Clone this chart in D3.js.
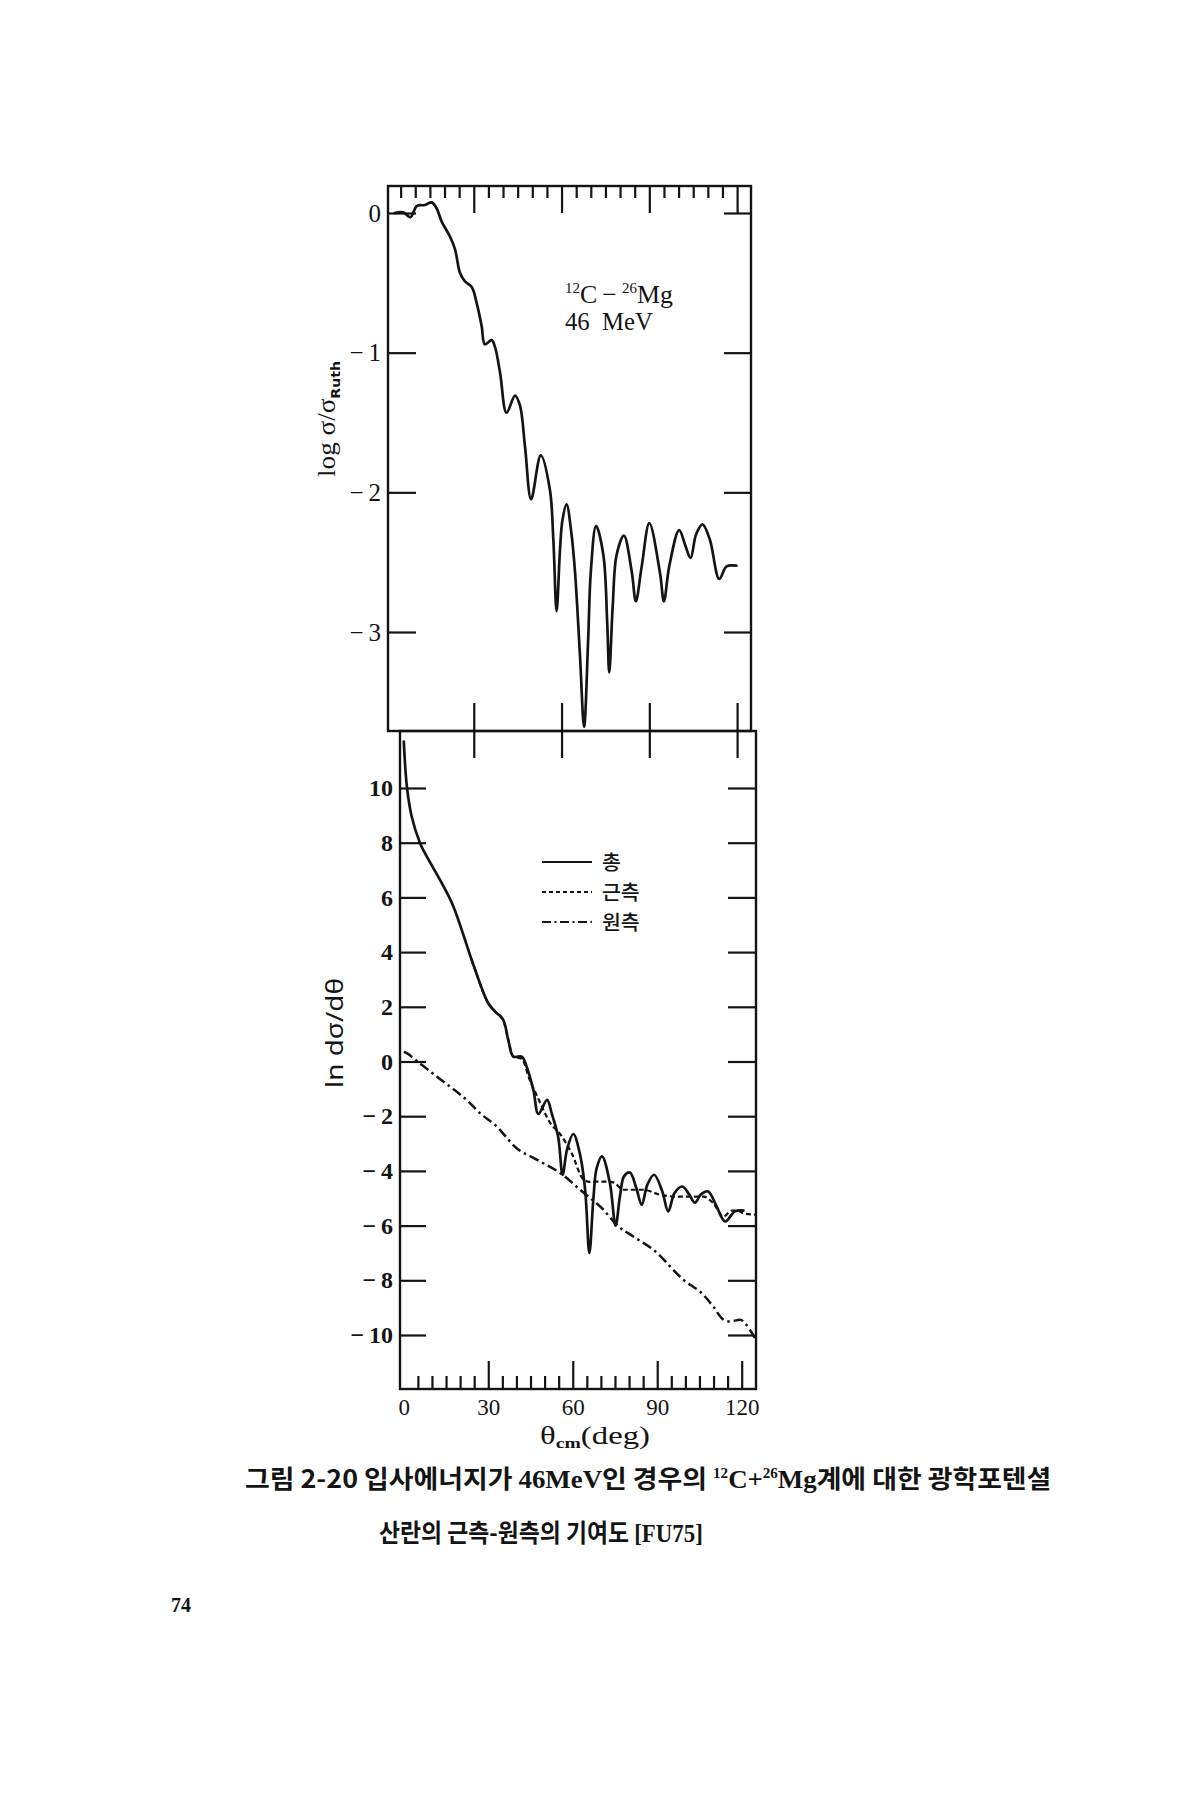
<!DOCTYPE html>
<html><head><meta charset="utf-8">
<script src="https://cdn.jsdelivr.net/npm/d3@7"></script>
<style>html,body{margin:0;padding:0;background:#fff}</style>
</head><body>
<svg id="c" width="1200" height="1800" xmlns="http://www.w3.org/2000/svg"></svg>
<script>
// ---------------- DATA ----------------
// Upper panel: log(sigma/sigma_Ruth) vs theta_cm (deg)
const ratioCurve = [[3.0,0.0],[5.9,0.005],[8.4,-0.03],[10.5,0.05],[13.3,0.057],[15.6,0.076],[17.3,0.034],[19.0,-0.06],[21.9,-0.17],[23.6,-0.26],[25.3,-0.43],[27.0,-0.49],[29.3,-0.53],[31.0,-0.645],[32.7,-0.81],[33.8,-0.94],[36.1,-0.91],[37.2,-0.955],[39.0,-1.145],[41.2,-1.43],[44.1,-1.307],[45.8,-1.38],[47.5,-1.67],[49.6,-2.05],[52.9,-1.736],[56.0,-1.98],[57.2,-2.34],[58.3,-2.85],[59.5,-2.4],[60.3,-2.2],[61.7,-2.086],[63.4,-2.3],[64.6,-2.57],[66.3,-3.17],[67.7,-3.68],[69.1,-3.05],[70.0,-2.57],[71.8,-2.24],[74.3,-2.45],[75.6,-2.93],[76.3,-3.29],[77.5,-2.81],[78.8,-2.45],[81.3,-2.31],[84.0,-2.57],[85.4,-2.78],[87.4,-2.53],[90.0,-2.22],[93.6,-2.57],[95.0,-2.78],[96.8,-2.53],[100.2,-2.27],[102.3,-2.38],[104.1,-2.47],[106.0,-2.3],[108.2,-2.23],[110.7,-2.34],[113.9,-2.62],[116.4,-2.53],[119.8,-2.525]];
// Lower panel: ln dsigma/dtheta vs theta_cm (deg)
const totalCurve = [[0.0,11.7],[1.1,10.05],[2.8,8.96],[5.75,7.99],[7.5,7.62],[13.5,6.52],[17.6,5.67],[24.7,3.54],[30.0,2.13],[32.4,1.83],[35.3,1.52],[37.1,0.79],[38.9,0.18],[41.9,0.18],[43.6,-0.18],[46.0,-1.03],[47.8,-1.92],[50.9,-1.40],[52.5,-1.89],[54.8,-2.74],[56.4,-4.14],[58.0,-3.2],[60.2,-2.65],[62.6,-3.41],[64.4,-4.69],[65.9,-7.0],[67.3,-5.06],[68.5,-3.9],[70.4,-3.47],[73.2,-4.45],[75.2,-6.0],[76.8,-4.9],[78.2,-4.2],[80.3,-4.06],[82.5,-4.6],[84.5,-5.24],[86.5,-4.5],[88.9,-4.14],[91.8,-4.75],[93.9,-5.48],[96.2,-4.8],[98.9,-4.57],[101.3,-4.85],[103.4,-5.16],[105.6,-4.85],[108.1,-4.75],[111.1,-5.30],[114.1,-5.85],[117.6,-5.48],[120.6,-5.45]];
const nearCurve = [[24.0,3.75],[24.7,3.54],[30.0,2.13],[32.4,1.83],[35.3,1.52],[37.1,0.79],[38.9,0.18],[41.9,0.1],[44.8,-0.7],[47.5,-1.3],[52.0,-2.25],[55.5,-2.65],[59.6,-3.35],[63.7,-4.3],[66.0,-4.4],[70.8,-4.39],[74.4,-4.42],[77.9,-4.69],[85.0,-4.69],[91.0,-4.87],[96.9,-4.94],[106.4,-4.94],[109.9,-5.18],[113.5,-5.67],[116.5,-5.45],[118.5,-5.45],[120.5,-5.55],[124.7,-5.6]];
const farCurve = [[0,0.35],[1.5,0.28],[3.4,0.12],[11.7,-0.55],[23.5,-1.52],[27.1,-1.89],[33.0,-2.38],[40.1,-3.17],[47.2,-3.59],[56.4,-4.14],[62.6,-4.69],[70.9,-5.42],[75.6,-5.97],[81.5,-6.4],[88.6,-6.88],[99.3,-7.98],[106.4,-8.53],[109.9,-8.96],[113.5,-9.44],[115.8,-9.51],[119.4,-9.44],[122.9,-9.81],[125.3,-10.24]];

const xMajorTicks = [30, 60, 90, 120];
const xMinorTicks = [5,10,15,20,25,35,40,45,50,55,65,70,75,80,85,95,100,105,110,115];
const xTickLabels = [0, 30, 60, 90, 120];
const upperYTicks = [0, -1, -2, -3];
const lowerYTicks = [10, 8, 6, 4, 2, 0, -2, -4, -6, -8, -10];
const legendLabels = ["총", "근측", "원측"];

// ---------------- SETUP ----------------
const svg = d3.select("#c");
svg.append("rect").attr("width",1200).attr("height",1800).attr("fill","#fff");
const ink = "#141414";
const serif = "'Liberation Serif','Times New Roman',serif";
const kr = "'Noto Sans CJK KR','Noto Sans',sans-serif";

const xTop = d3.scaleLinear().domain([0,120]).range([386,737.1]);
const yTop = d3.scaleLinear().domain([0,-3]).range([213,632]);
const xBot = d3.scaleLinear().domain([0,120]).range([403.8,741.7]);
const yBot = d3.scaleLinear().domain([10,-10]).range([788,1335]);

const topBox = {x0:388, x1:751, y0:186, y1:731};
const botBox = {x0:400, x1:756, y0:731, y1:1389};

function clean(g){
  g.select(".domain").remove();
  g.selectAll(".tick line").attr("stroke",ink).attr("stroke-width",2.2);
  g.selectAll(".tick text").attr("fill",ink);
}
const minus = d => d < 0 ? "\u2212\u2009" + (-d) : "" + d;

// frames
[topBox, botBox].forEach(b => {
  svg.append("rect").attr("x",b.x0).attr("y",b.y0).attr("width",b.x1-b.x0).attr("height",b.y1-b.y0)
    .attr("fill","none").attr("stroke",ink).attr("stroke-width",2.4);
});

// ---- upper panel axes ----
svg.append("g").attr("transform",`translate(0,${topBox.y0})`)
  .call(d3.axisBottom(xTop).tickValues(xMinorTicks).tickSize(12).tickFormat("")).call(clean);
svg.append("g").attr("transform",`translate(0,${topBox.y0})`)
  .call(d3.axisBottom(xTop).tickValues(xMajorTicks).tickSize(27).tickFormat("")).call(clean);
// crossing ticks at the divider
svg.append("g").attr("transform",`translate(0,${topBox.y1})`)
  .call(d3.axisTop(xTop).tickValues(xMajorTicks).tickSize(28).tickFormat("")).call(clean);
svg.append("g").attr("transform",`translate(0,${topBox.y1})`)
  .call(d3.axisBottom(xTop).tickValues(xMajorTicks).tickSize(27).tickFormat("")).call(clean);
const gyl = svg.append("g").attr("transform",`translate(${topBox.x0},0)`)
  .call(d3.axisLeft(yTop).tickValues(upperYTicks).tickSize(-28).tickPadding(7).tickFormat(minus)).call(clean);
gyl.selectAll("text").attr("font-family",serif).attr("font-size",25);
svg.append("g").attr("transform",`translate(${topBox.x1},0)`)
  .call(d3.axisRight(yTop).tickValues(upperYTicks).tickSize(-27).tickFormat("")).call(clean);

// ---- lower panel axes ----
svg.append("g").attr("transform",`translate(0,${botBox.y1})`)
  .call(d3.axisTop(xBot).tickValues(xMinorTicks).tickSize(13).tickFormat("")).call(clean);
svg.append("g").attr("transform",`translate(0,${botBox.y1})`)
  .call(d3.axisTop(xBot).tickValues(xMajorTicks).tickSize(28).tickFormat("")).call(clean);
const gxl = svg.append("g").attr("transform",`translate(0,${botBox.y1})`)
  .call(d3.axisBottom(xBot).tickValues(xTickLabels).tickSize(0).tickPadding(9.5)).call(clean);
gxl.selectAll("text").attr("font-family",serif).attr("font-size",23);
const gbl = svg.append("g").attr("transform",`translate(${botBox.x0},0)`)
  .call(d3.axisLeft(yBot).tickValues(lowerYTicks).tickSize(-26).tickPadding(7).tickFormat(minus)).call(clean);
gbl.selectAll("text").attr("font-family",serif).attr("font-size",24).attr("font-weight","bold");
svg.append("g").attr("transform",`translate(${botBox.x1},0)`)
  .call(d3.axisRight(yBot).tickValues(lowerYTicks).tickSize(-28).tickFormat("")).call(clean);

// ---- curves ----
const lineTop = d3.line().x(d=>xTop(d[0])).y(d=>yTop(d[1])).curve(d3.curveCatmullRom.alpha(0.5));
const lineBotC = d3.line().x(d=>xBot(d[0])).y(d=>yBot(d[1])).curve(d3.curveCatmullRom.alpha(0.5));
const lineBotM = d3.line().x(d=>xBot(d[0])).y(d=>yBot(d[1])).curve(d3.curveMonotoneX);

svg.append("path").attr("d",lineTop(ratioCurve)).attr("fill","none").attr("stroke",ink)
  .attr("stroke-width",2.7).attr("stroke-linejoin","round").attr("stroke-linecap","round");
svg.append("path").attr("d",lineBotM(farCurve)).attr("fill","none").attr("stroke",ink)
  .attr("stroke-width",2.5).attr("stroke-dasharray","10,4,2.5,4");
svg.append("path").attr("d",lineBotM(nearCurve)).attr("fill","none").attr("stroke",ink)
  .attr("stroke-width",2.2).attr("stroke-dasharray","5,3");
svg.append("path").attr("d",lineBotC(totalCurve)).attr("fill","none").attr("stroke",ink)
  .attr("stroke-width",2.7).attr("stroke-linejoin","round").attr("stroke-linecap","round");

// ---- helper to fit text width ----
function fitText(sel, targetW){
  const w = sel.node().getComputedTextLength();
  return w > 0 ? targetW / w : 1;
}

// ---- axis titles ----
const t1g = svg.append("g");
const t1 = t1g.append("text").attr("text-anchor","middle").attr("y",8)
  .attr("font-family",serif).attr("font-size",25).attr("fill",ink);
t1.append("tspan").text("log \u03c3/\u03c3");
t1.append("tspan").attr("dy",5).attr("font-family","'DejaVu Sans',sans-serif").attr("font-weight","bold").attr("font-size",13).text("Ruth");
t1g.attr("transform",`translate(327,419) rotate(-90) scale(${fitText(t1,116)},1)`);

const t2g = svg.append("g");
const t2 = t2g.append("text").attr("text-anchor","middle").attr("y",8)
  .attr("font-family","'Noto Sans','DejaVu Sans',sans-serif").attr("font-size",24).attr("fill",ink)
  .text("ln d\u03c3/d\u03b8");
t2g.attr("transform",`translate(335,1033) rotate(-90) scale(${fitText(t2,110)},1)`);

const t3g = svg.append("g");
const t3 = t3g.append("text").attr("text-anchor","middle")
  .attr("font-family",serif).attr("font-size",25).attr("fill",ink);
t3.append("tspan").text("\u03b8");
t3.append("tspan").attr("dy",4).attr("font-size",15).attr("font-weight","bold").text("cm");
t3.append("tspan").attr("dy",-4).text("(deg)");
t3g.attr("transform",`translate(595,1444) scale(${fitText(t3,110)},1)`);

// ---- annotation ----
const a1g = svg.append("g");
const a1 = a1g.append("text").attr("font-family",serif).attr("font-size",26).attr("fill",ink);
a1.append("tspan").attr("font-size",15).attr("dy",-10).text("12");
a1.append("tspan").attr("dy",10).text("C\u2009\u2212\u2009");
a1.append("tspan").attr("font-size",15).attr("dy",-10).text("26");
a1.append("tspan").attr("dy",10).text("Mg");
a1g.attr("transform",`translate(565,303) scale(${fitText(a1,108)},1)`);
const a2g = svg.append("g");
const a2 = a2g.append("text").attr("font-family",serif).attr("font-size",26).attr("fill",ink).text("46\u00a0 MeV");
a2g.attr("transform",`translate(565,330) scale(${fitText(a2,88)},1)`);

// ---- legend ----
const legY = [862, 892, 922];
const legDash = [null, "4,3", "9,3.5,2,3.5"];
legendLabels.forEach((lab,i) => {
  const l = svg.append("line").attr("x1",542).attr("x2",592).attr("y1",legY[i]).attr("y2",legY[i])
    .attr("stroke",ink).attr("stroke-width",2.2);
  if (legDash[i]) l.attr("stroke-dasharray",legDash[i]);
  svg.append("text").attr("x",602).attr("y",legY[i]+8).attr("font-family",kr).attr("font-size",20.5)
    .attr("font-weight",500).attr("fill",ink).text(lab);
});

// ---- caption ----
const c1g = svg.append("g");
const c1 = c1g.append("text").attr("font-family",kr).attr("font-size",25).attr("font-weight","bold").attr("fill",ink);
c1.append("tspan").text("그림 2-20 입사에너지가 ");
c1.append("tspan").attr("font-family",serif).text("46MeV");
c1.append("tspan").text("인 경우의 ");
c1.append("tspan").attr("font-family",serif).attr("font-size",14).attr("dy",-10).text("12");
c1.append("tspan").attr("font-family",serif).attr("dy",10).text("C+");
c1.append("tspan").attr("font-family",serif).attr("font-size",14).attr("dy",-10).text("26");
c1.append("tspan").attr("font-family",serif).attr("dy",10).text("Mg");
c1.append("tspan").text("계에 대한 광학포텐셜");
c1g.attr("transform",`translate(245,1488) scale(${fitText(c1,807)},1)`);

const c2g = svg.append("g");
const c2 = c2g.append("text").attr("font-family",kr).attr("font-size",25).attr("font-weight","bold").attr("fill",ink);
c2.append("tspan").text("산란의 근측-원측의 기여도 ");
c2.append("tspan").attr("font-family",serif).text("[FU75]");
c2g.attr("transform",`translate(379,1542) scale(${fitText(c2,324)},1)`);

// page number
svg.append("text").attr("x",181).attr("y",1612).attr("text-anchor","middle")
  .attr("font-family",serif).attr("font-weight","bold").attr("font-size",20).attr("fill",ink).text("74");
</script>
</body></html>
